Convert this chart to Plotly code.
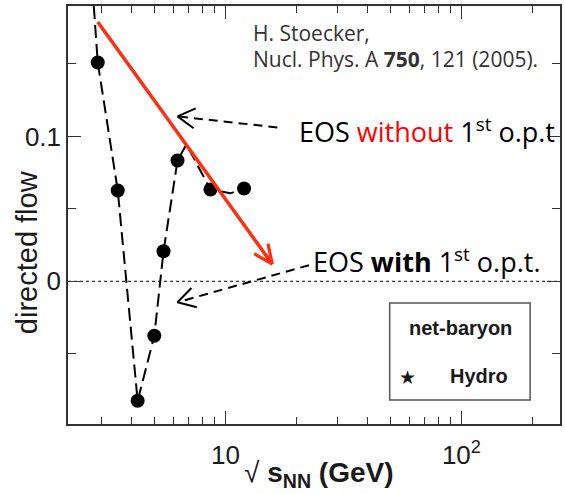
import math
import plotly.graph_objects as go

# ---- data (hydro, net-baryon directed flow) ----
sqrt_s = [2.88, 3.5, 4.25, 5.0, 5.47, 6.27, 8.65, 12.0]
v1 = [0.151, 0.0627, -0.0825, -0.0376, 0.0207, 0.0834, 0.0633, 0.064]

# dashed guide curve through the hydro points
curve_x = [2.77, 2.88, 3.5, 4.25, 5.0, 5.47, 6.27, 6.84, 8.65, 10.5, 12.0]
curve_y = [0.19, 0.151, 0.0627, -0.0825, -0.0376, 0.0207, 0.0834, 0.0945, 0.0633, 0.0607, 0.064]

# red trend arrow (EOS without 1st order phase transition): [tail, tip]
red_x = [2.88, 15.8]
red_y = [0.179, 0.0118]

# dashed pointer arrows: [tail, tip]
ptr1_x = [16.6, 6.27]
ptr1_y = [0.1062, 0.1138]
ptr2_x = [22.6, 6.27]
ptr2_y = [0.0111, -0.0145]

x_range = [0.3333, 2.4177]
y_range = [-0.0985, 0.190]
x_ticks = [10, 100]
x_ticktext = ["10", "10<sup>2</sup>"]
x_minor = [3, 4, 5, 6, 7, 8, 9, 20, 30, 40, 50, 60, 70, 80, 90, 200]
y_ticks = [0, 0.1]
y_ticktext = ["0", "0.1"]
y_minor = [-0.05, 0.05, 0.15]

W, H = 565, 494
L, R, T, B = 68, 3, 6, 70
pw, ph = W - L - R, H - T - B


def px(x):
    return (x - L) / pw


def py(y):
    return (H - B - y) / ph


# data <-> pixel helpers (same linear/log scales as the axes)
def d2p(x, y):
    X = L + (math.log10(x) - x_range[0]) / (x_range[1] - x_range[0]) * pw
    Y = T + (y_range[1] - y) / (y_range[1] - y_range[0]) * ph
    return X, Y


def p2d(X, Y):
    x = 10 ** (x_range[0] + (X - L) / pw * (x_range[1] - x_range[0]))
    y = y_range[1] - (Y - T) / ph * (y_range[1] - y_range[0])
    return x, y


def chevron(xs, ys, length, angle_deg):
    """open V arrowhead at the tip (xs[1], ys[1]) pointing away from the tail."""
    tx, ty = d2p(xs[1], ys[1])
    sx, sy = d2p(xs[0], ys[0])
    dx, dy = sx - tx, sy - ty
    n = math.hypot(dx, dy)
    dx, dy = dx / n, dy / n
    out_x, out_y = [], []
    for sgn in (1, -1):
        a = math.radians(angle_deg) * sgn
        ex = tx + length * (dx * math.cos(a) - dy * math.sin(a))
        ey = ty + length * (dx * math.sin(a) + dy * math.cos(a))
        x0, y0 = p2d(ex, ey)
        out_x += [x0, xs[1]]
        out_y += [y0, ys[1]]
        out_x.append(None)
        out_y.append(None)
    return out_x, out_y


fig = go.Figure()

fig.add_trace(go.Scatter(
    x=curve_x, y=curve_y, mode="lines",
    line=dict(color="black", width=2, dash="13px,6px"),
    hoverinfo="skip", showlegend=False))

fig.add_trace(go.Scatter(
    x=sqrt_s, y=v1, mode="markers",
    marker=dict(color="black", size=14, symbol="circle"),
    showlegend=False))

for xs, ys in [(ptr1_x, ptr1_y), (ptr2_x, ptr2_y)]:
    fig.add_trace(go.Scatter(
        x=xs, y=ys, mode="lines",
        line=dict(color="black", width=2, dash="9px,6px"),
        hoverinfo="skip", showlegend=False))
    hx, hy = chevron(xs, ys, 20, 30)
    fig.add_trace(go.Scatter(
        x=hx, y=hy, mode="lines", line=dict(color="black", width=2),
        hoverinfo="skip", showlegend=False))

fig.add_trace(go.Scatter(
    x=red_x, y=red_y, mode="lines", line=dict(color="#ff3011", width=3.5),
    hoverinfo="skip", showlegend=False))
hx, hy = chevron(red_x, red_y, 21, 24)
fig.add_trace(go.Scatter(
    x=hx, y=hy, mode="lines", line=dict(color="#ff3011", width=3.2),
    hoverinfo="skip", showlegend=False))

calib = "Open Sans"
annotations = [
    dict(x=px(252), y=py(33), xref="paper", yref="paper", xanchor="left", yanchor="middle",
         text="H. Stoecker,", showarrow=False,
         font=dict(family=calib, size=21, color="#333333")),
    dict(x=px(252), y=py(59), xref="paper", yref="paper", xanchor="left", yanchor="middle",
         text="Nucl. Phys. A <b>750</b>, 121 (2005).", showarrow=False,
         font=dict(family=calib, size=21, color="#333333")),
    dict(x=px(298), y=py(130), xref="paper", yref="paper", xanchor="left", yanchor="middle",
         text="EOS <span style='color:#ff0000'>without</span> 1<sup>st</sup> o.p.t", showarrow=False,
         font=dict(family=calib, size=27, color="black")),
    dict(x=px(312), y=py(260), xref="paper", yref="paper", xanchor="left", yanchor="middle",
         text="EOS <b>with</b> 1<sup>st</sup> o.p.t.", showarrow=False,
         font=dict(family=calib, size=27, color="black")),
    dict(x=px(462), y=py(328), xref="paper", yref="paper", xanchor="center", yanchor="middle",
         text="<b>net-baryon</b>", showarrow=False,
         font=dict(family="Liberation Sans", size=20, color="#1a1a1a")),
    dict(x=px(409), y=py(377), xref="paper", yref="paper", xanchor="center", yanchor="middle",
         text="★", showarrow=False,
         font=dict(family="DejaVu Sans", size=19, color="#1a1a1a")),
    dict(x=px(450), y=py(376), xref="paper", yref="paper", xanchor="left", yanchor="middle",
         text="<b>Hydro</b>", showarrow=False,
         font=dict(family="Liberation Sans", size=20, color="#1a1a1a")),
    dict(x=px(243), y=py(474), xref="paper", yref="paper", xanchor="left", yanchor="middle",
         text="√ <b>s<sub>NN</sub> (GeV)</b>", showarrow=False,
         font=dict(family="Liberation Sans", size=28, color="#1a1a1a")),
    dict(x=px(27), y=py(252), xref="paper", yref="paper", xanchor="center", yanchor="middle",
         text="directed flow", textangle=-90, showarrow=False,
         font=dict(family="Liberation Sans", size=29, color="#1a1a1a")),
]

shapes = [
    dict(type="line", xref="paper", yref="y", x0=0, x1=1, y0=0, y1=0,
         line=dict(color="black", width=1, dash="dot"), layer="below"),
    dict(type="rect", xref="paper", yref="paper", x0=px(391), x1=px(532), y0=py(400), y1=py(303),
         line=dict(color="#555555", width=1.5), fillcolor="rgba(0,0,0,0)"),
]

axis_common = dict(
    showline=True, linecolor="#333333", linewidth=1.5, mirror="allticks",
    ticks="inside", ticklen=13, tickwidth=1.2, tickcolor="#333333",
    showgrid=False, zeroline=False,
    tickfont=dict(family="Liberation Sans", size=26, color="#1a1a1a"),
)

fig.update_layout(
    width=W, height=H,
    margin=dict(l=L, r=R, t=T, b=B),
    paper_bgcolor="white", plot_bgcolor="white",
    showlegend=False,
    annotations=annotations, shapes=shapes,
    xaxis=dict(type="log", range=x_range, tickmode="array", tickvals=x_ticks, ticktext=x_ticktext,
               ticklabelstandoff=7,
               minor=dict(tickmode="array", tickvals=x_minor, ticks="inside", ticklen=7,
                          tickwidth=1.2, tickcolor="#333333", showgrid=False),
               **axis_common),
    yaxis=dict(range=y_range, tickmode="array", tickvals=y_ticks, ticktext=y_ticktext,
               minor=dict(tickmode="array", tickvals=y_minor, ticks="inside", ticklen=8,
                          tickwidth=1.2, tickcolor="#333333", showgrid=False),
               **axis_common),
)

fig.write_html("out.html")
